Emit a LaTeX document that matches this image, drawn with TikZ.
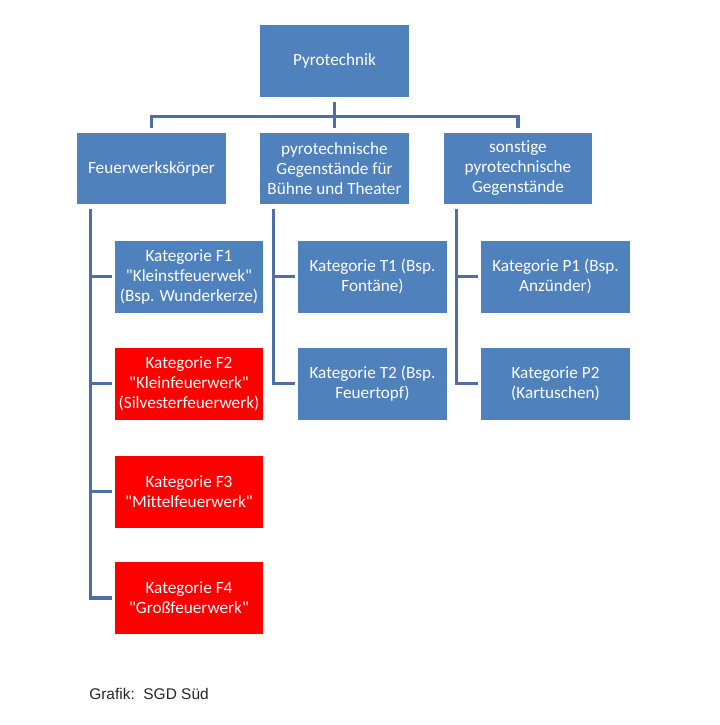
\documentclass[tikz,border=0pt]{standalone}
\usepackage{fontspec}
\setmainfont{Carlito}[Ligatures=NoCommon]
\newfontfamily\arialf{Liberation Sans}
\definecolor{boxblue}{HTML}{4F81BD}
\definecolor{boxred}{HTML}{FF0000}
\definecolor{linecol}{HTML}{4D6FA6}
\newcommand{\qq}{\textquotedbl}
\begin{document}
\begin{tikzpicture}[x=0.75pt,y=-0.75pt,
  box/.style={fill=boxblue,draw=none,text=white,align=center,inner sep=1pt,
    minimum width=149*0.75pt,minimum height=72*0.75pt,
    font=\fontsize{12.9pt}{15pt}\selectfont},
  redbox/.style={box,fill=boxred},
  conn/.style={draw=linecol,line width=2.3pt}]
\useasboundingbox (0,0) rectangle (720,725);
\fill[white] (0,0) rectangle (720,725);
% top and second row
\node[box] (top) at (334.5,61) {Pyrotechnik};
\node[box,minimum height=71*0.75pt] (left) at (151.5,168.5) {Feuerwerkskörper};
\node[box,minimum height=71*0.75pt] (mid) at (334.5,168.5) {pyrotechnische\\Gegenstände für\\Bühne und Theater};
\node[box,minimum height=71*0.75pt,minimum width=148*0.75pt] (right) at (518,168.5) {sonstige\\pyrotechnische\\Gegenstände};
% left column
\node[box,minimum width=148*0.75pt] (f1) at (189,276.5) {Kategorie F1\\\qq Kleinstfeuerwek\qq\\(Bsp. Wunderkerze)};
\node[redbox,minimum width=148*0.75pt] (f2) at (189,383.5) {Kategorie F2\\\qq Kleinfeuerwerk\qq\\(Silvesterfeuerwerk)};
\node[redbox,minimum width=148*0.75pt] (f3) at (189,491.5) {Kategorie F3\\\qq Mittelfeuerwerk\qq};
\node[redbox,minimum width=148*0.75pt] (f4) at (189,598) {Kategorie F4\\\qq Großfeuerwerk\qq};
% middle column
\node[box] (t1) at (372.5,276.5) {Kategorie T1 (Bsp.\\Fontäne)};
\node[box] (t2) at (372.5,383.5) {Kategorie T2 (Bsp.\\Feuertopf)};
% right column
\node[box] (p1) at (555.5,276.5) {Kategorie P1 (Bsp.\\Anzünder)};
\node[box] (p2) at (555.5,383.5) {Kategorie P2\\(Kartuschen)};
% connectors top
\draw[conn,shorten <=5*0.75pt,shorten >=5*0.75pt] (top.south) -- (mid.north);
\draw[conn,shorten >=5*0.75pt] ([yshift=-19*0.75pt]top.south) -| (left.north);
\draw[conn,shorten >=5*0.75pt] ([yshift=-19*0.75pt]top.south) -| (right.north);
% left column connectors
\coordinate (lv) at ([xshift=14*0.75pt,yshift=-5*0.75pt]left.south west);
\foreach \n in {f1,f2,f3,f4}{\draw[conn,shorten >=3*0.75pt] (lv) |- (\n.west);}
% middle column connectors
\coordinate (mv) at ([xshift=14*0.75pt,yshift=-5*0.75pt]mid.south west);
\foreach \n in {t1,t2}{\draw[conn,shorten >=3*0.75pt] (mv) |- (\n.west);}
% right column connectors
\coordinate (rv) at ([xshift=13*0.75pt,yshift=-5*0.75pt]right.south west);
\foreach \n in {p1,p2}{\draw[conn,shorten >=3*0.75pt] (rv) |- (\n.west);}
% credit
\node[anchor=west,inner sep=0pt,text=black!85,font=\arialf\fontsize{11.6pt}{14pt}\selectfont] (credit) at (89,694) {Grafik:\ \ SGD Süd};
\end{tikzpicture}
\end{document}
